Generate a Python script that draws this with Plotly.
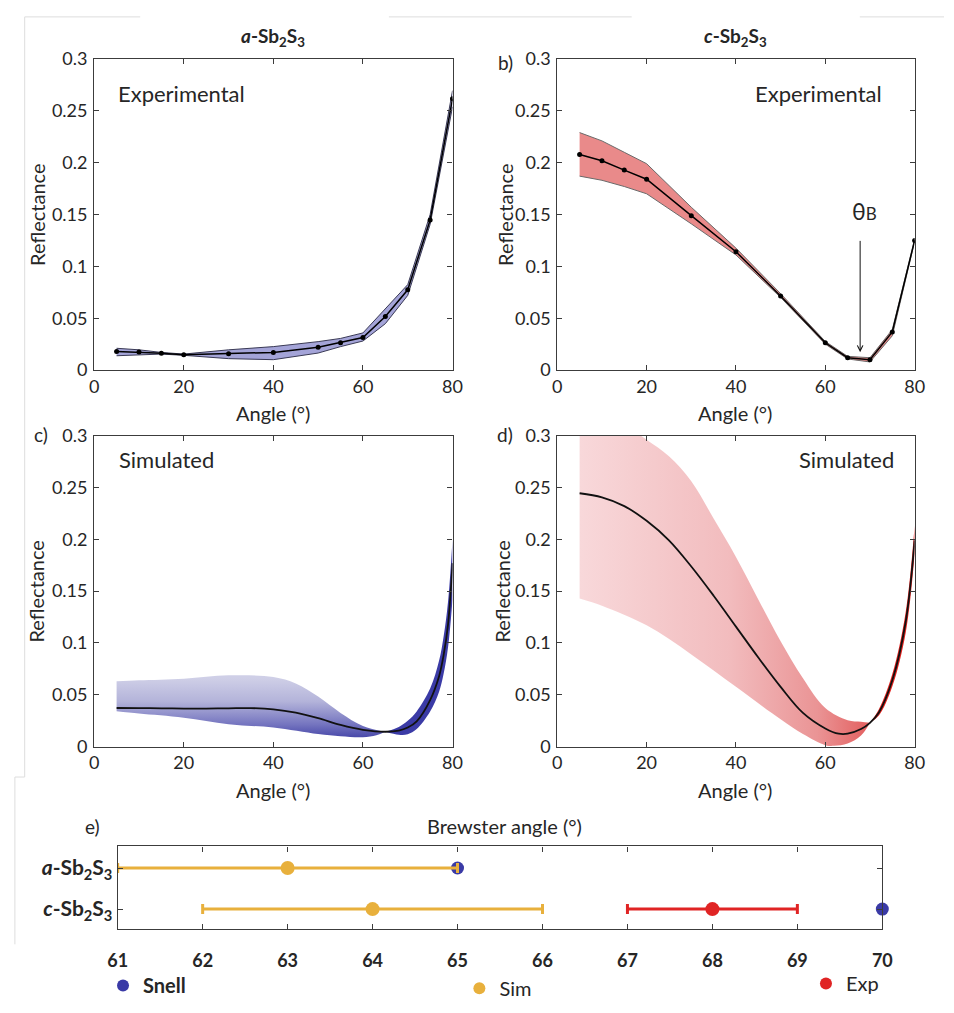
import plotly.graph_objects as go

W, H = 954, 1013
FONT = "Lato"
TXT = "#262626"
AX = "#3c3c3c"


def px(x):
    return x / W


def py(y):
    return 1 - y / H


# ---------------- data ----------------
# a) experimental, amorphous
a_angle = [5, 10, 15, 20, 30, 40, 50, 55, 60, 65, 70, 75, 80]
a_refl = [0.0179, 0.0173, 0.0163, 0.0148, 0.0157, 0.0170, 0.0220, 0.0264, 0.0314, 0.0516, 0.0774, 0.1447, 0.2616]
a_upper = [0.0210, 0.0195, 0.0170, 0.0154, 0.0195, 0.0226, 0.0274, 0.0305, 0.0358, 0.0588, 0.0824, 0.1500, 0.2695]
a_lower = [0.0138, 0.0148, 0.0154, 0.0142, 0.0110, 0.0100, 0.0164, 0.0226, 0.0280, 0.0447, 0.0720, 0.1405, 0.2538]

# b) experimental, crystalline
b_angle = [5, 10, 15, 20, 30, 40, 50, 60, 65, 70, 75, 80]
b_refl = [0.2078, 0.2019, 0.1928, 0.1840, 0.1489, 0.1141, 0.0715, 0.0263, 0.0119, 0.0100, 0.0367, 0.1250]
b_upper = [0.229, 0.221, 0.210, 0.199, 0.157, 0.1176, 0.0737, 0.0276, 0.0132, 0.0119, 0.039, 0.126]
b_lower = [0.187, 0.183, 0.177, 0.170, 0.141, 0.111, 0.070, 0.025, 0.0107, 0.0078, 0.033, 0.124]
b_brewster = 67.8

# c) simulated, amorphous
c_angle = [5, 10, 15, 20, 25, 30, 35, 40, 45, 50, 55, 60, 65, 68, 70, 72, 75, 77, 78, 79, 80]
c_refl = [0.0373, 0.0372, 0.0370, 0.0368, 0.0368, 0.0370, 0.0372, 0.0360, 0.0328, 0.0275, 0.0210, 0.0163,
          0.0144, 0.0155, 0.0185, 0.0245, 0.0450, 0.0680, 0.0880, 0.1180, 0.1770]
c_up_angle_l = [5, 10, 20, 30, 40, 45, 50, 55, 60, 65]
c_upper_l = [0.0630, 0.0640, 0.0656, 0.0688, 0.0672, 0.0610, 0.0483, 0.0326, 0.0200, 0.0144]
c_lo_angle_l = [5, 10, 20, 30, 40, 50, 55, 60, 63, 65]
c_lower_l = [0.0342, 0.0320, 0.0280, 0.0217, 0.0185, 0.0122, 0.0100, 0.0091, 0.0110, 0.0144]
c_angle_r = [65, 68, 70, 72, 75, 77, 78, 79, 80]
c_upper_r = [0.0144, 0.0190, 0.0250, 0.0340, 0.0560, 0.0830, 0.1060, 0.1400, 0.2000]
c_lower_r = [0.0144, 0.0115, 0.0120, 0.0170, 0.0340, 0.0530, 0.0700, 0.0960, 0.1420]

# d) simulated, crystalline
d_angle = [5, 10, 15, 20, 25, 30, 35, 40, 45, 50, 55, 60, 63, 65, 68, 70, 72, 75, 78, 80]
d_refl = [0.2444, 0.2404, 0.2320, 0.2178, 0.1990, 0.1738, 0.1456, 0.1158, 0.0860, 0.0577, 0.0326, 0.0176,
          0.0125, 0.0125, 0.0170, 0.0230, 0.0330, 0.0640, 0.1205, 0.1990]
d_up_angle_l = [5, 10, 15, 20, 25, 30, 35, 40, 45, 50, 55, 60, 65, 68, 70]
d_upper_l = [0.330, 0.320, 0.310, 0.296, 0.280, 0.256, 0.220, 0.183, 0.142, 0.1017, 0.066, 0.0373, 0.0255, 0.0240, 0.0230]
d_lo_angle_l = [5, 10, 20, 30, 40, 50, 55, 60, 62, 65, 68, 70]
d_lower_l = [0.143, 0.136, 0.117, 0.089, 0.0577, 0.0264, 0.0122, 0.0015, 0.0008, 0.0030, 0.0107, 0.0230]
d_angle_r = [70, 72, 75, 78, 80]
d_upper_r = [0.023, 0.036, 0.070, 0.130, 0.213]
d_lower_r = [0.023, 0.030, 0.058, 0.110, 0.186]

# e) Brewster angle summary
e_rows = ["<b><i>c</i>-Sb<sub>2</sub>S<sub>3</sub></b>", "<b><i>a</i>-Sb<sub>2</sub>S<sub>3</sub></b>"]
snell_angle = [65, 70]
snell_rows = [e_rows[1], e_rows[0]]
sim_angle = [63, 64]
sim_err = [2, 2]
sim_rows = [e_rows[1], e_rows[0]]
exp_angle = [68]
exp_err = [1]
exp_rows = [e_rows[0]]
e_ticks = [61, 62, 63, 64, 65, 66, 67, 68, 69, 70]

refl_ticks = [0, 0.05, 0.1, 0.15, 0.2, 0.25, 0.3]
refl_ticktext = ["0", "0.05", "0.1", "0.15", "0.2", "0.25", "0.3"]
angle_ticks = [0, 20, 40, 60, 80]

# ---------------- figure ----------------
fig = go.Figure()


def band(xl, yl, xu, yu, xa, ya, fillcolor=None, fillgradient=None, edge=None, shape="linear"):
    lw = 1 if edge else 0
    fig.add_trace(go.Scatter(x=xl, y=yl, mode="lines", xaxis=xa, yaxis=ya,
                             line=dict(color=edge or "rgba(0,0,0,0)", width=lw, shape=shape),
                             showlegend=False, hoverinfo="skip"))
    kw = dict(fill="tonexty")
    if fillgradient is not None:
        kw["fillgradient"] = fillgradient
    else:
        kw["fillcolor"] = fillcolor
    fig.add_trace(go.Scatter(x=xu, y=yu, mode="lines", xaxis=xa, yaxis=ya,
                             line=dict(color=edge or "rgba(0,0,0,0)", width=lw, shape=shape),
                             showlegend=False, hoverinfo="skip", **kw))


# a
band(a_angle, a_lower, a_angle, a_upper, "x", "y", fillcolor="#a4a4d8", edge="#3a3a55")
fig.add_trace(go.Scatter(x=a_angle, y=a_refl, mode="lines+markers", xaxis="x", yaxis="y",
                         line=dict(color="black", width=1.5), marker=dict(color="black", size=5),
                         showlegend=False))
# b
band(b_angle, b_lower, b_angle, b_upper, "x2", "y2", fillcolor="#e98a8a", edge="#6a6a6a")
fig.add_trace(go.Scatter(x=b_angle, y=b_refl, mode="lines+markers", xaxis="x2", yaxis="y2",
                         line=dict(color="black", width=1.5), marker=dict(color="black", size=5),
                         showlegend=False))
# c
band(c_lo_angle_l, c_lower_l, c_up_angle_l, c_upper_l, "x3", "y3", shape="spline",
     fillgradient=dict(type="vertical", start=0.008, stop=0.07,
                       colorscale=[[0, "#34349f"], [0.3, "#7676c0"], [0.65, "#b4b4da"], [1, "#cfcfe7"]]))
band(c_angle_r, c_lower_r, c_angle_r, c_upper_r, "x3", "y3", shape="spline", fillcolor="#3b3ba6")
fig.add_trace(go.Scatter(x=c_angle, y=c_refl, mode="lines", xaxis="x3", yaxis="y3",
                         line=dict(color="#111111", width=1.8, shape="spline"), showlegend=False))
# d
band(d_lo_angle_l, d_lower_l, d_up_angle_l, d_upper_l, "x4", "y4", shape="spline",
     fillgradient=dict(type="horizontal", start=5, stop=70,
                       colorscale=[[0, "#f8d8da"], [0.5, "#f2bcbe"], [0.8, "#ea9495"], [1, "#e25858"]]))
band(d_angle_r, d_lower_r, d_angle_r, d_upper_r, "x4", "y4", shape="spline", fillcolor="#e2231f")
fig.add_trace(go.Scatter(x=d_angle, y=d_refl, mode="lines", xaxis="x4", yaxis="y4",
                         line=dict(color="#111111", width=1.8, shape="spline"), showlegend=False))

# e
fig.add_trace(go.Scatter(x=snell_angle, y=snell_rows, mode="markers", xaxis="x5", yaxis="y5",
                         marker=dict(color="#3a3aa6", size=13), name="<b>Snell</b>",
                         legend="legend", cliponaxis=False))
fig.add_trace(go.Scatter(x=sim_angle, y=sim_rows, mode="markers", xaxis="x5", yaxis="y5",
                         marker=dict(color="#e8b03c", size=14), name="Sim", legend="legend2",
                         error_x=dict(type="data", array=sim_err, color="#e8b03c", thickness=3, width=5)))
fig.add_trace(go.Scatter(x=exp_angle, y=exp_rows, mode="markers", xaxis="x5", yaxis="y5",
                         marker=dict(color="#e02424", size=14), name="Exp", legend="legend3",
                         error_x=dict(type="data", array=exp_err, color="#e02424", thickness=3, width=5)))

base = dict(showline=True, linecolor=AX, linewidth=1.2, mirror="ticks", ticks="inside", ticklen=5,
            tickcolor=AX, tickwidth=1, showgrid=False, zeroline=False,
            tickfont=dict(family=FONT, size=18, color=TXT))

xl = [px(86), px(452)]
xr = [px(559), px(924)]
yt = [py(366), py(48)]
yb = [py(751), py(433)]


def xax(dom, anchor):
    return dict(base, domain=dom, anchor=anchor, range=[0, 80], tickvals=angle_ticks)


def yax(dom, anchor):
    return dict(base, domain=dom, anchor=anchor, range=[0, 0.3], tickvals=refl_ticks,
                ticktext=refl_ticktext, ticklabelstandoff=2)


fig.update_layout(
    width=W, height=H, margin=dict(l=0, r=0, t=0, b=0),
    paper_bgcolor="white", plot_bgcolor="white",
    font=dict(family=FONT, color=TXT),
    xaxis=xax(xl, "y"), yaxis=yax(yt, "x"),
    xaxis2=xax(xr, "y2"), yaxis2=yax(yt, "x2"),
    xaxis3=xax(xl, "y3"), yaxis3=yax(yb, "x3"),
    xaxis4=xax(xr, "y4"), yaxis4=yax(yb, "x4"),
    xaxis5=dict(base, domain=[px(110), px(891)], anchor="y5", range=[61, 70], tickvals=e_ticks,
                ticklabelstandoff=16,
                tickfont=dict(family=FONT, size=18, color=TXT, weight="bold")),
    yaxis5=dict(base, domain=[py(937), py(853)], anchor="x5", type="category",
                categoryarray=e_rows, categoryorder="array", range=[-0.476, 1.524],
                ticklabelstandoff=0,
                tickfont=dict(family=FONT, size=21, color=TXT)),
    legend=dict(x=px(95), y=py(995), xanchor="left", yanchor="middle", itemsizing="constant",
                bgcolor="rgba(255,255,255,0)", font=dict(family=FONT, size=20, color=TXT)),
    legend2=dict(x=px(459), y=py(998), xanchor="left", yanchor="middle", itemsizing="constant",
                 bgcolor="rgba(255,255,255,0)", font=dict(family=FONT, size=20, color=TXT)),
    legend3=dict(x=px(813), y=py(993), xanchor="left", yanchor="middle", itemsizing="constant",
                 bgcolor="rgba(255,255,255,0)", font=dict(family=FONT, size=20, color=TXT)),
)

anns = []


def note(text, x, y, size=18, xanchor="center", angle=0, **kw):
    anns.append(dict(text=text, x=px(x), y=py(y), xref="paper", yref="paper", showarrow=False,
                     xanchor=xanchor, yanchor="middle", textangle=angle,
                     font=dict(family=FONT, size=size, color=TXT), **kw))


note("<b><i>a</i>-Sb<sub>2</sub>S<sub>3</sub></b>", 269, 26, size=19)
note("<b><i>c</i>-Sb<sub>2</sub>S<sub>3</sub></b>", 741, 26, size=19)
note("Experimental", 108, 83, size=22, xanchor="left")
note("Experimental", 893, 83, size=22, xanchor="right")
note("Simulated", 109, 457, size=22, xanchor="left")
note("Simulated", 905, 457, size=22, xanchor="right")
for yy in (410, 795):
    note("Angle (°)", 269, yy, size=20)
    note("Angle (°)", 741, yy, size=20)
for (xx, yy) in ((27, 207), (505, 207), (27, 592), (503, 592)):
    note("Reflectance", xx, yy, size=20, angle=-90)
note("b)", 506, 52, size=19)
note("c)", 32, 432, size=19)
note("d)", 506, 432, size=19)
note("e)", 84, 833, size=19)
note("Brewster angle (°)", 505, 832, size=20)
note("θ<span style='font-size:17px'>B</span>", 873, 203, size=23)

anns.append(dict(x=b_brewster, y=0.0172, ax=b_brewster, ay=0.126, xref="x2", yref="y2",
                 axref="x2", ayref="y2", showarrow=True, arrowhead=5, arrowsize=1.1,
                 arrowwidth=1, arrowcolor="#111111", text=""))

fig.update_layout(annotations=anns)

# faint crop borders from the source figure
faint = "#dddddd"
shapes = [
    dict(type="line", xref="paper", yref="paper", x0=px(15), x1=px(133), y0=py(5), y1=py(5)),
    dict(type="line", xref="paper", yref="paper", x0=px(387), x1=px(635), y0=py(5), y1=py(5)),
    dict(type="line", xref="paper", yref="paper", x0=px(868), x1=px(954), y0=py(5), y1=py(5)),
    dict(type="line", xref="paper", yref="paper", x0=px(15), x1=px(15), y0=py(5), y1=py(782)),
    dict(type="line", xref="paper", yref="paper", x0=px(5), x1=px(15), y0=py(782), y1=py(782)),
    dict(type="line", xref="paper", yref="paper", x0=px(5), x1=px(5), y0=py(782), y1=py(953)),
]
for s in shapes:
    s["line"] = dict(color=faint, width=1)
fig.update_layout(shapes=shapes)

fig.write_html("out.html")
